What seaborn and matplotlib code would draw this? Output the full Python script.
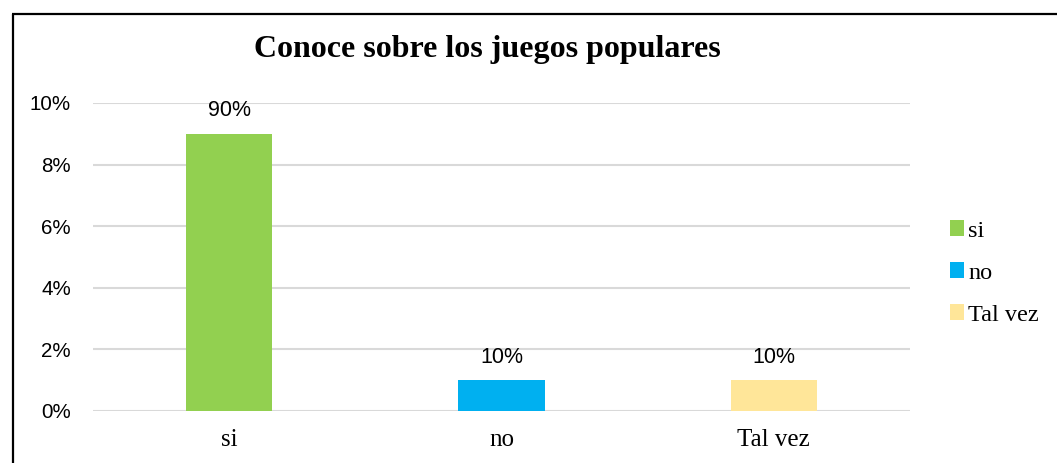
import matplotlib
matplotlib.use("Agg")
import matplotlib.pyplot as plt
import seaborn as sns
import pandas as pd
from matplotlib.lines import Line2D
from matplotlib.patches import Patch

categories = ["si", "no", "Tal vez"]
values = [9, 1, 1]          # bar heights on the % axis
labels = ["90%", "10%", "10%"]  # data labels shown above bars
colors = ["#92D050", "#00B0F0", "#FFE699"]
yticks = [0, 2, 4, 6, 8, 10]
title = "Conoce sobre los juegos populares"

sns.set_theme(style="white")
plt.rcParams['font.family'] = ['Liberation Sans', 'DejaVu Sans']
plt.rcParams['text.color'] = 'black'
plt.rcParams['xtick.color'] = 'black'
plt.rcParams['ytick.color'] = 'black'

df = pd.DataFrame({"cat": categories, "val": values})

fig = plt.figure(figsize=(10.57, 4.63), dpi=100)
ax = fig.add_axes([93/1057, 52/463, (910-93)/1057, (411-103)/463])

sns.barplot(data=df, x="cat", y="val", hue="cat", palette=colors,
            dodge=False, width=0.316, legend=False, ax=ax, saturation=1,
            linewidth=0, edgecolor="none")

ax.set_xlim(-0.5, 2.5)
ax.set_ylim(0, 10)
ax.set_yticks(yticks)
ax.set_yticklabels([f"{t}%" for t in yticks], fontsize=14.8, color="black")
ax.set_xticks(range(len(categories)))
ax.set_xticklabels(categories, fontsize=18, family="Liberation Serif", color="black")
ax.tick_params(axis="x", length=0, pad=13)
ax.tick_params(axis="y", length=0, pad=16)
ax.set_xlabel("")
ax.set_ylabel("")
ax.grid(axis="y", color="#d9d9d9", linewidth=1.5)
ax.set_axisbelow(True)
for s in ax.spines.values():
    s.set_visible(False)

for i, (v, lab) in enumerate(zip(values, labels)):
    ax.annotate(lab, (i, v), xytext=(0, 9), textcoords="offset points",
                ha="center", va="bottom", fontsize=15.5, color="black")

fig.text(487/1057, 1 - 49/463, title, ha="center", va="center",
         fontsize=23, fontweight="bold", family="Liberation Serif", color="black")

handles = [Patch(facecolor=c, edgecolor="none") for c in colors]
leg = fig.legend(handles, categories, loc="center left",
                 bbox_to_anchor=(928/1057, 1 - 273/463), frameon=False,
                 prop={"family": "Liberation Serif", "size": 17.5},
                 handlelength=0.6, handleheight=0.6, handletextpad=0.15,
                 labelspacing=0.85)

fig.add_artist(Line2D([12.5/1057, 12.5/1057], [0, 1 - 13.5/463],
                      transform=fig.transFigure, color="black", linewidth=1.6,
                      solid_capstyle="butt"))
fig.add_artist(Line2D([12/1057, 1.0], [1 - 13.5/463, 1 - 13.5/463],
                      transform=fig.transFigure, color="black", linewidth=1.6,
                      solid_capstyle="butt"))

fig.savefig("out.png", dpi=100, facecolor="white")
